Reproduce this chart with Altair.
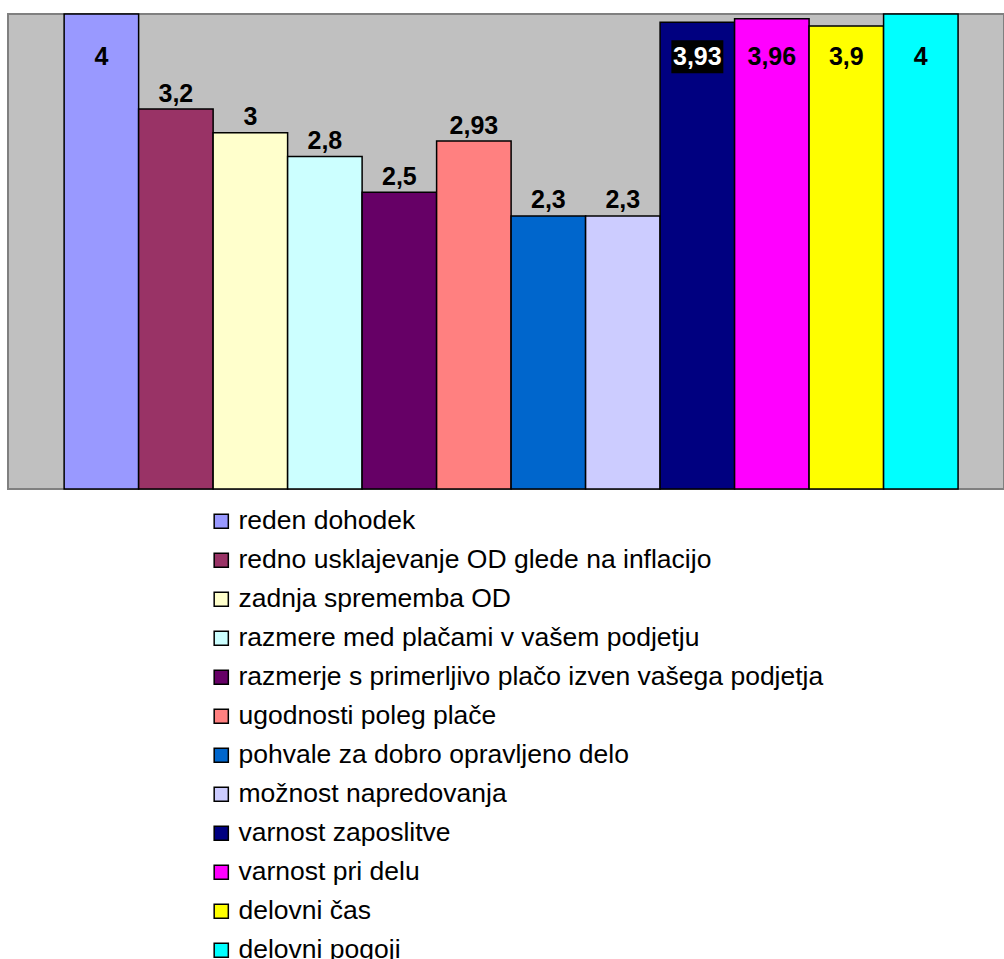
import altair as alt
import pandas as pd

categories = [
    "reden dohodek",
    "redno usklajevanje OD glede na inflacijo",
    "zadnja sprememba OD",
    "razmere med plačami v vašem podjetju",
    "razmerje s primerljivo plačo izven vašega podjetja",
    "ugodnosti poleg plače",
    "pohvale za dobro opravljeno delo",
    "možnost napredovanja",
    "varnost zaposlitve",
    "varnost pri delu",
    "delovni čas",
    "delovni pogoji",
]
values = [4, 3.2, 3, 2.8, 2.5, 2.93, 2.3, 2.3, 3.93, 3.96, 3.9, 4]
colors = ["#9999FF", "#993366", "#FFFFCC", "#CCFFFF", "#660066", "#FF8080",
          "#0066CC", "#CCCCFF", "#000080", "#FF00FF", "#FFFF00", "#00FFFF"]

df = pd.DataFrame({"kat": categories, "val": values})

FONT = "Liberation Sans"

x_enc = alt.X("kat:N", sort=categories, axis=None,
              scale=alt.Scale(paddingInner=0, paddingOuter=0.685, align=0.55))
y_scale = alt.Scale(domain=[0, 4], nice=False)

bars = alt.Chart(df).mark_bar(stroke="black", strokeWidth=1.5).encode(
    x=x_enc,
    y=alt.Y("val:Q", scale=y_scale, axis=None),
    color=alt.Color("kat:N", scale=alt.Scale(domain=categories, range=colors),
                    legend=alt.Legend(
                        title=None, orient="none", legendX=200, legendY=494,
                        direction="vertical", columns=1,
                        symbolType="square", symbolSize=200,
                        symbolStrokeColor="black", symbolStrokeWidth=1.5,
                        labelFont=FONT, labelFontSize=26.5, labelColor="black",
                        labelLimit=900, rowPadding=12, labelOffset=4,
                    )),
)

base_lbl = alt.Chart(df).transform_calculate(
    ly="min(datum.val + 0.13, 3.64)",
    lab="replace(toString(datum.val), '.', ',')",
)

box = base_lbl.transform_filter(alt.datum.val == 3.93).mark_point(
    shape="M-1,-0.635L1,-0.635L1,0.635L-1,0.635Z", size=2704,
    filled=True, color="black", opacity=1,
).encode(
    x=alt.X("kat:N", sort=categories, axis=None),
    y=alt.Y("ly:Q", scale=y_scale, axis=None),
)

labels = base_lbl.mark_text(font=FONT, fontSize=25, fontWeight="bold",
                            baseline="middle", align="center").encode(
    x=alt.X("kat:N", sort=categories, axis=None),
    y=alt.Y("ly:Q", scale=y_scale, axis=None),
    text="lab:N",
    color=alt.condition(alt.datum.val == 3.93, alt.value("white"), alt.value("black")),
)

chart = alt.layer(bars, box, labels).properties(
    width=996, height=475,
    background="white",
    padding={"left": 8, "top": 13, "right": 0, "bottom": 0},
).configure_view(
    fill="#C0C0C0", stroke="#808080", strokeWidth=2,
)

chart.save("out.html", embed_options={"renderer": "svg", "actions": False})
